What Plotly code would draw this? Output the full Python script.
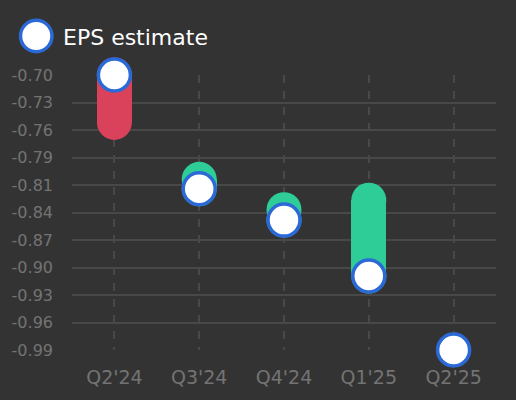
import plotly.graph_objects as go

quarters = ["Q2'24", "Q3'24", "Q4'24", "Q1'25", "Q2'25"]
estimate = [-0.70, -0.82, -0.853, -0.912, -0.99]
actual = [-0.75, -0.81, -0.842, -0.832, None]
tick_labels = ["-0.70", "-0.73", "-0.76", "-0.79", "-0.81", "-0.84",
               "-0.87", "-0.90", "-0.93", "-0.96", "-0.99"]
y_top = -0.70
y_bottom = -0.99

RED = "#d9425a"
GREEN = "#2ecc96"
BLUE = "#2b6ad6"
BG = "#333333"
GRID = "#484848"
TICK = "#737373"
FONT = "DejaVu Sans"

fig = go.Figure()

bx, bbase, bh, bcol, cap_x, cap_y, cap_col = [], [], [], [], [], [], []
for q, e, a in zip(quarters, estimate, actual):
    if a is None:
        continue
    col = GREEN if a > e else RED
    bx.append(q)
    bbase.append(e)
    bh.append(a - e)
    bcol.append(col)
    cap_x += [q, q]
    cap_y += [e, a]
    cap_col += [col, col]

fig.add_trace(go.Bar(x=bx, y=bh, base=bbase, width=0.41,
                     marker=dict(color=bcol, line=dict(width=0)),
                     showlegend=False, hoverinfo="skip"))
fig.add_trace(go.Scatter(x=cap_x, y=cap_y, mode="markers",
                         marker=dict(size=35, color=cap_col, line=dict(width=0)),
                         showlegend=False, hoverinfo="skip", cliponaxis=False))
fig.add_trace(go.Scatter(x=quarters, y=estimate, mode="markers", name="EPS estimate",
                         marker=dict(size=32, color="white",
                                     line=dict(color=BLUE, width=3.5)),
                         showlegend=False, cliponaxis=False))

n = len(tick_labels)
tickvals = [y_top + (y_bottom - y_top) * i / (n - 1) for i in range(n)]

fig.update_layout(
    width=516, height=400,
    paper_bgcolor=BG, plot_bgcolor=BG,
    margin=dict(l=69, r=20, t=75, b=50),
    font=dict(family=FONT, color=TICK),
    bargap=0,
    xaxis=dict(type="category", range=[-0.5, 4.5],
               showgrid=True, gridcolor=GRID, gridwidth=2, griddash="8px,8px",
               zeroline=False, showline=False, ticks="",
               tickfont=dict(size=19, color=TICK), ticklabelstandoff=14,
               fixedrange=True),
    yaxis=dict(range=[y_bottom, y_top], tickvals=tickvals, ticktext=tick_labels,
               showgrid=True, gridcolor=GRID, gridwidth=2,
               zeroline=False, showline=False, ticks="",
               tickfont=dict(size=16, color=TICK), ticklabelstandoff=18,
               fixedrange=True),
    shapes=[dict(type="circle", xref="paper", yref="paper",
                 xsizemode="pixel", ysizemode="pixel",
                 xanchor=(33 - 69) / 427, yanchor=(350 - 36) / 275,
                 x0=-15.75, x1=15.75, y0=-15.75, y1=15.75,
                 fillcolor="white", line=dict(color=BLUE, width=3.5))],
    annotations=[dict(text="EPS estimate", xref="paper", yref="paper",
                      x=(58 - 69) / 427, y=(350 - 37) / 275,
                      xanchor="left", yanchor="middle", showarrow=False,
                      font=dict(size=22, color="white", family=FONT))],
)

fig.write_html("out.html", config={"displayModeBar": False},
               post_script="document.body.style.margin='0';document.body.style.overflow='hidden';")
